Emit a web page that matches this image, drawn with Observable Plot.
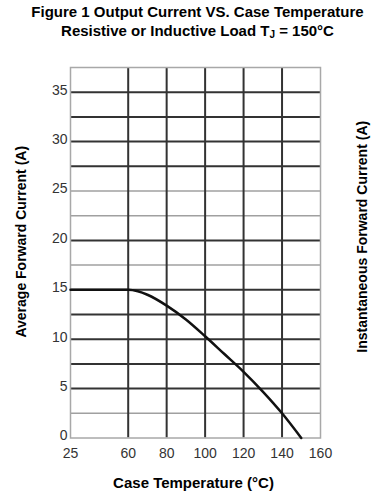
<!DOCTYPE html>
<html><head><meta charset="utf-8">
<script src="https://cdn.jsdelivr.net/npm/d3@7"></script>
<script src="https://cdn.jsdelivr.net/npm/@observablehq/plot@0.6"></script>
<style>
body{margin:0;background:#fff;font-family:"Liberation Sans",Arial,sans-serif;}
#title{height:46px;text-align:center;font-weight:bold;font-size:15px;line-height:19px;padding-top:2px;box-sizing:border-box;color:#000;padding-left:24px}
</style></head><body>
<div id="title">Figure 1 Output Current VS. Case Temperature<br>Resistive or Inductive Load T<sub style="font-size:10px;vertical-align:-2px">J</sub> = 150°C</div>
<div id="chart"></div>
<script>
const xTicks = [25, 60, 80, 100, 120, 140, 160];
const yTicks = [0, 5, 10, 15, 20, 25, 30, 35];
const gridDarkY = [5, 7.5, 10, 12.5, 15, 20, 27.5, 30, 32.5, 35];
const gridLightY = [2.5, 17.5, 22.5, 25];
const gridDarkX = [60, 80, 100, 120, 140];
const temp =    [25, 60, 65,   70,   80,   90,   100,  110, 120, 130, 140, 150];
const current = [15, 15, 14.85, 14.5, 13.4, 12.0, 10.3, 8.5, 6.7, 4.7, 2.5, 0];
const data = temp.map((t, i) => ({t, c: current[i]}));

const chart = Plot.plot({
  width: 371, height: 453,
  marginTop: 21, marginBottom: 61.5, marginLeft: 70, marginRight: 51,
  style: {fontFamily: '"Liberation Sans", Arial, sans-serif', fontSize: "14px", color: "#333", background: "#fff"},
  x: {type: "linear", domain: [25, 60, 160], range: [70, 127.7, 320]},
  y: {domain: [0, 37.5]},
  marks: [
    Plot.ruleY(gridLightY, {stroke: "#a0a0a0", strokeWidth: 1.5}),
    Plot.ruleY(gridDarkY, {stroke: "#333", strokeWidth: 2}),
    Plot.ruleX(gridDarkX, {stroke: "#333", strokeWidth: 2}),
    Plot.frame({stroke: "#a8a8a8", strokeWidth: 1.5}),
    Plot.line(data, {x: "t", y: "c", stroke: "#111", strokeWidth: 2.5, curve: "monotone-x"}),
    Plot.axisX(xTicks, {tickSize: 0, tickPadding: 10, label: null, fill: "#333", fontSize: 14, rotate: 0}),
    Plot.axisY(yTicks, {tickSize: 0, tickPadding: 3, label: null, fill: "#333", fontSize: 14, dy: -2, rotate: 0}),
    Plot.text(["Case Temperature (°C)"], {frameAnchor: "bottom", dy: 50, dx: -2, fontWeight: "bold", fontSize: 15, fill: "#000", textAnchor: "middle"}),
    Plot.text(["Average Forward Current (A)"], {frameAnchor: "left", rotate: -90, dx: -49, dy: -11, fontWeight: "bold", fontSize: 14, fill: "#000", textAnchor: "middle"}),
    Plot.text(["Instantaneous Forward Current (A)"], {frameAnchor: "right", rotate: -90, dx: 42, dy: -16, fontWeight: "bold", fontSize: 14, fill: "#000", textAnchor: "middle"})
  ]
});
document.getElementById("chart").append(chart);
</script></body></html>
